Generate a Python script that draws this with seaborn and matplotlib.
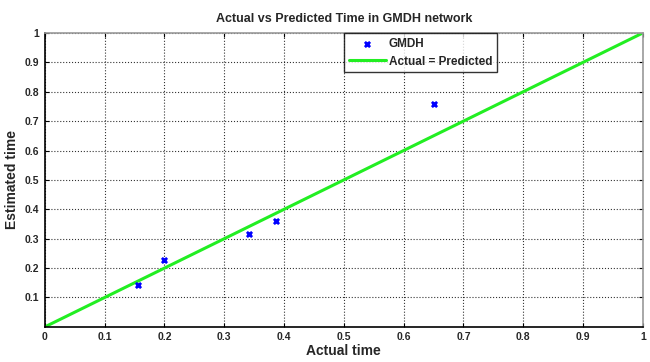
import pandas as pd
import seaborn as sns
import matplotlib.pyplot as plt

# valores
actual_time = [0.156, 0.200, 0.342, 0.387, 0.650]
estimated_time = [0.141, 0.228, 0.317, 0.360, 0.757]
ideal_x = [0.0, 1.0]
ideal_y = [0.0, 1.0]
ticks = [0, 0.1, 0.2, 0.3, 0.4, 0.5, 0.6, 0.7, 0.8, 0.9, 1]
tick_labels = ['0', '0.1', '0.2', '0.3', '0.4', '0.5', '0.6', '0.7', '0.8', '0.9', '1']

pts = pd.DataFrame({'actual': actual_time, 'estimated': estimated_time})
ideal = pd.DataFrame({'actual': ideal_x, 'estimated': ideal_y})

sns.set_style('white')
plt.rcParams['font.family'] = ['Liberation Sans', 'DejaVu Sans']

fig = plt.figure(figsize=(6.5, 3.62), dpi=100)
ax = fig.add_axes([0.069, 0.097, 0.92, 0.812])

sns.scatterplot(x='actual', y='estimated', data=pts, ax=ax, marker='x',
                color='#0000ff', s=14, linewidth=2, label='GMDH', zorder=3)
sns.lineplot(x='actual', y='estimated', data=ideal, ax=ax, color='#22ee22',
             linewidth=2.2, label='Actual = Predicted', zorder=2)

ax.set_xlim(0, 1)
ax.set_ylim(0, 1)
ax.set_xticks(ticks)
ax.set_xticklabels(tick_labels, fontweight='bold', fontsize=7.5)
ax.set_yticks(ticks[1:])
ax.set_yticklabels(tick_labels[1:], fontweight='bold', fontsize=7.5)
ax.tick_params(direction='in', length=3, top=True, right=True, bottom=True, left=True,
               color='black', pad=4)
ax.grid(True, linestyle=':', color='black', linewidth=0.8, alpha=0.8)

for side in ['left', 'bottom']:
    ax.spines[side].set_color('black')
    ax.spines[side].set_linewidth(1.2)
for side in ['top', 'right']:
    ax.spines[side].set_color('#999999')
    ax.spines[side].set_linewidth(1.2)

ax.set_xlabel('Actual time', fontweight='bold', fontsize=10, labelpad=1)
ax.set_ylabel('Estimated time', fontweight='bold', fontsize=10, labelpad=4)
ax.set_title('Actual vs Predicted Time in GMDH network', fontweight='bold', fontsize=9, pad=8)

leg = ax.legend(loc='upper left', bbox_to_anchor=(0.5, 1.0), fontsize=8.5, frameon=True,
                fancybox=False, borderpad=0.4, labelspacing=0.5, handlelength=3.2,
                handletextpad=0.2, borderaxespad=0)
leg.get_frame().set_edgecolor('black')
leg.get_frame().set_linewidth(1.0)
for t in leg.get_texts():
    t.set_fontweight('bold')

plt.savefig('out.png', dpi=100)
